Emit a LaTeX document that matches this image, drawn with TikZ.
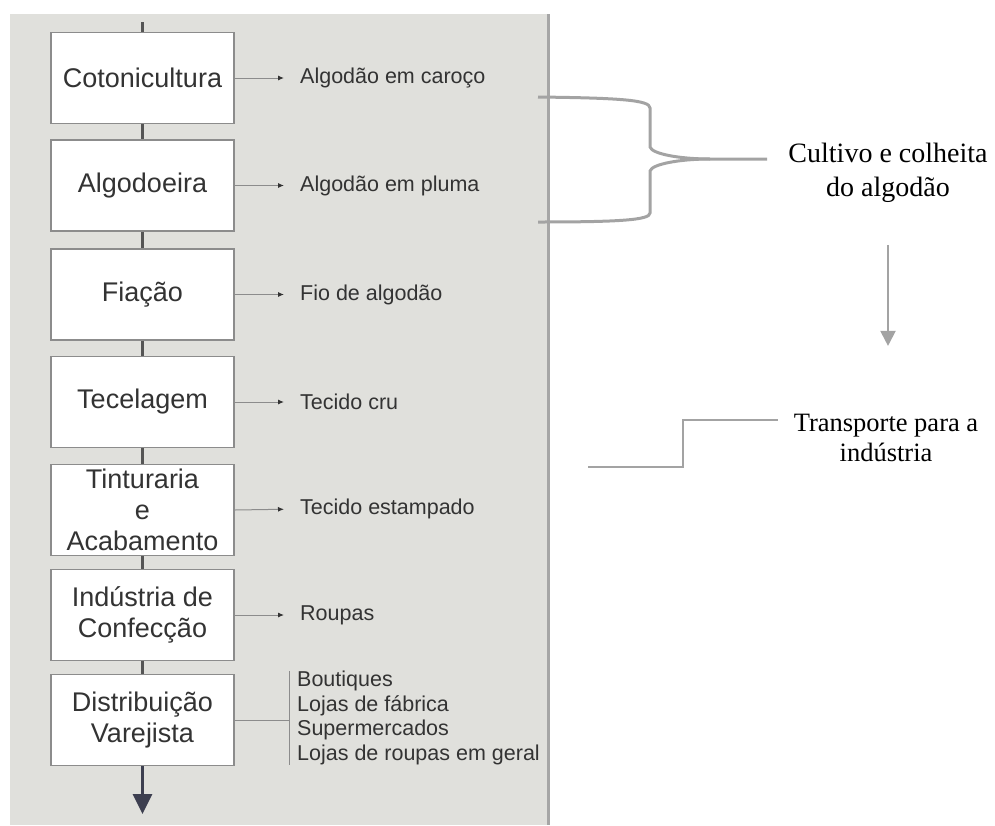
\documentclass[tikz,border=0pt]{standalone}
\usepackage{fontspec}
\setmainfont{Liberation Serif}
\newfontfamily\caixafont{Liberation Sans}
\usetikzlibrary{arrows.meta}

\definecolor{painel}{HTML}{E0E0DC}
\definecolor{borda}{HTML}{A6A6A6}
\definecolor{caixaborda}{HTML}{8C8C8C}
\definecolor{textocinza}{HTML}{333333}
\definecolor{haste}{HTML}{555555}
\definecolor{ardosia}{HTML}{3D3F50}
\definecolor{chavecinza}{HTML}{A3A3A3}

\begin{document}
\begin{tikzpicture}[x=1pt,y=-1pt,
    etapa/.style={draw=caixaborda,line width=1.5pt,fill=white,minimum width=183pt,minimum height=91pt,inner sep=0pt,align=center,text=textocinza,font=\caixafont\fontsize{27}{31}\selectfont},
    produto/.style={anchor=west,inner sep=0pt,text=textocinza,font=\caixafont\fontsize{21.5}{24.5}\selectfont},
    haste/.style={draw=haste,line width=2.5pt},
    seta/.style={draw=caixaborda,line width=1pt,shorten >=16pt,-{Latex[length=6pt,width=5pt,color=textocinza]}},
    nota/.style={align=center,inner sep=0pt,font=\fontsize{28}{34}\selectfont}]
\useasboundingbox (0,0) rectangle (995,825);
\fill[painel] (10,14) rectangle (548,825);
\draw[borda,line width=3pt] (548,14) -- (548,825);

\node[etapa] (cot) at (142.5,78) {Cotonicultura};
\node[etapa] (alg) at (142.5,185.5) {Algodoeira};
\node[etapa] (fia) at (142.5,294.5) {Fiação};
\node[etapa] (tec) at (142.5,402) {Tecelagem};
\node[etapa] (tin) at (142.5,510) {Tinturaria\\e\\Acabamento};
\node[etapa] (ind) at (142.5,615) {Indústria de\\Confecção};
\node[etapa] (dis) at (142.5,720) {Distribuição\\Varejista};

\coordinate (topo) at (142.5,22);
\coordinate (fim) at (142.5,814);
\draw[haste] (topo) -- (cot.north);
\foreach \a/\b in {cot/alg,alg/fia,fia/tec,tec/tin,tin/ind,ind/dis}
    \draw[haste] (\a.south) -- (\b.north);
\draw[ardosia,line width=3pt,-{Triangle[length=20pt,width=19pt]}] (dis.south) -- (fim);

\node[produto] (p1) at (300,78) {Algodão em caroço};
\node[produto] (p2) at (300,185.5) {Algodão em pluma};
\node[produto] (p3) at (300,294.5) {Fio de algodão};
\node[produto] (p4) at (300,402) {Tecido cru};
\node[produto] (p5) at (300,509) {Tecido estampado};
\node[produto] (p6) at (300,615) {Roupas};
\foreach \a/\b in {cot/p1,alg/p2,fia/p3,tec/p4,tin/p5,ind/p6}
    \draw[seta] (\a.east) -- (\b.west);

\node[produto,align=left,inner xsep=8pt] (lojas) at (289,718) {Boutiques\\Lojas de fábrica\\Supermercados\\Lojas de roupas em geral};
\draw[caixaborda,line width=1pt] (lojas.north west) -- (lojas.south west);
\draw[caixaborda,line width=1pt] (dis.east) -- (dis.east -| lojas.west);

\node[nota] (cultivo) at (888,173) {Cultivo e colheita\\do algodão};
\draw[chavecinza,line width=3pt] (538,97) .. controls (620,98) and (650,100) .. (650,108) -- (650,147)
    .. controls (652,154) and (680,159) .. (710,159) -- (767,159);
\draw[chavecinza,line width=3pt] (710,159) .. controls (680,159) and (652,164) .. (650,171) -- (650,213)
    .. controls (650,220) and (620,222) .. (538,222);
\draw[chavecinza,line width=2pt,-{Triangle[length=15pt,width=15pt]}] ([yshift=-42pt]cultivo.south) -- ++(0,101);

\node[nota,font=\fontsize{26.5}{30}\selectfont] (transp) at (886,438) {Transporte para a\\indústria};
\draw[chavecinza,line width=2pt] (588,467) -- (683,467) -- (683,420) -- (778,420);
\end{tikzpicture}
\end{document}
